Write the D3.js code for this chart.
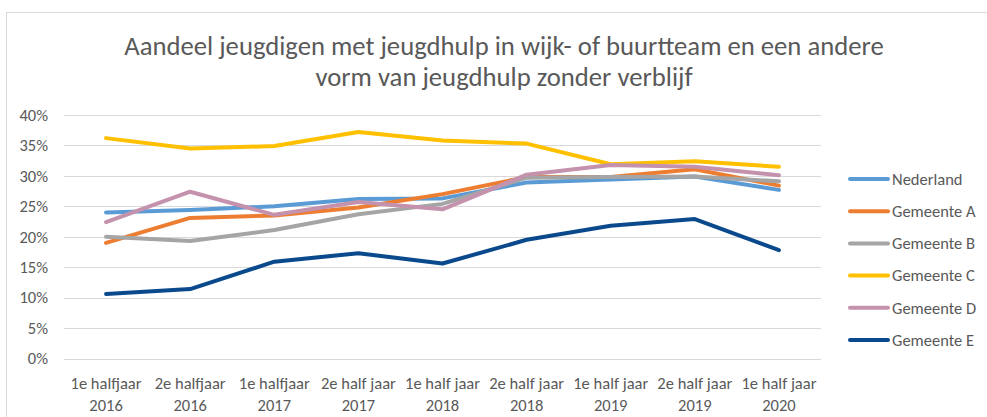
<!DOCTYPE html>
<html>
<head>
<meta charset="utf-8">
<script src="https://cdn.jsdelivr.net/npm/d3@7"></script>
<style>
  body { margin: 0; background: #fff; }
  svg text { font-family: Calibri, Carlito, Lato, sans-serif; fill: #595959; }
</style>
</head>
<body>
<svg id="chart" width="987" height="417"></svg>
<script>
const categories = [
  ['1e halfjaar', '2016'], ['2e halfjaar', '2016'], ['1e halfjaar', '2017'],
  ['2e half jaar', '2017'], ['1e half jaar', '2018'], ['2e half jaar', '2018'],
  ['1e half jaar', '2019'], ['2e half jaar', '2019'], ['1e half jaar', '2020']
];
const seriesNames = ['Nederland', 'Gemeente A', 'Gemeente B', 'Gemeente C', 'Gemeente D', 'Gemeente E'];
const nederland = [24.0, 24.4, 25.0, 26.2, 26.3, 28.9, 29.4, 29.9, 27.7];
const gemeenteA = [19.0, 23.1, 23.5, 24.8, 27.0, 29.8, 29.8, 31.1, 28.4];
const gemeenteB = [20.0, 19.3, 21.1, 23.7, 25.4, 29.7, 29.8, 29.9, 29.1];
const gemeenteC = [36.2, 34.5, 34.9, 37.2, 35.8, 35.3, 31.9, 32.4, 31.5];
const gemeenteD = [22.4, 27.4, 23.6, 25.7, 24.5, 30.2, 31.8, 31.5, 30.1];
const gemeenteE = [10.6, 11.4, 15.9, 17.3, 15.6, 19.5, 21.8, 22.9, 17.8];
const yTicks = [0, 5, 10, 15, 20, 25, 30, 35, 40];
const titleLines = ['Aandeel jeugdigen met jeugdhulp in wijk- of buurtteam en een andere',
  'vorm van jeugdhulp zonder verblijf'];

const colors = ['#5B9BD5', '#ED7D31', '#A5A5A5', '#FFC000', '#C592AE', '#0A4A8C'];
const allSeries = [nederland, gemeenteA, gemeenteB, gemeenteC, gemeenteD, gemeenteE];

const svg = d3.select('#chart');

// chart frame
svg.append('rect')
  .attr('x', 6.5).attr('y', 12.5)
  .attr('width', 1000).attr('height', 420)
  .attr('fill', 'none').attr('stroke', '#d9d9d9');

// title
const title = svg.append('text')
  .attr('x', 504).attr('y', 55)
  .attr('text-anchor', 'middle')
  .style('font-size', '22px')
  .style('font-weight', 300);
titleLines.forEach((t, i) => {
  title.append('tspan').attr('x', 504).attr('dy', i === 0 ? 0 : 31).text(t);
});
// fit width of first line to reference
const w0 = title.select('tspan').node().getComputedTextLength();
title.style('font-size', (22 * 760 / w0) + 'px');

const x = d3.scaleBand()
  .domain(d3.range(categories.length))
  .range([64, 821]);

const y = d3.scaleLinear()
  .domain([0, 40])
  .range([358.5, 115]);

// gridlines
svg.append('g')
  .selectAll('line')
  .data(yTicks)
  .join('line')
  .attr('x1', 64).attr('x2', 821)
  .attr('y1', d => Math.round(y(d)) + 0.5)
  .attr('y2', d => Math.round(y(d)) + 0.5)
  .attr('stroke', '#d9d9d9')
  .attr('stroke-width', 1);

// y labels
svg.append('g')
  .selectAll('text')
  .data(yTicks)
  .join('text')
  .attr('x', 48)
  .attr('y', d => y(d))
  .attr('dy', '0.35em')
  .attr('text-anchor', 'end')
  .style('font-size', '16.5px')
  .text(d => d + '%');

// x labels
const xl = svg.append('g')
  .selectAll('text')
  .data(categories)
  .join('text')
  .attr('text-anchor', 'middle')
  .style('font-size', '16.5px');
xl.append('tspan')
  .attr('x', (d, i) => x(i) + x.bandwidth() / 2)
  .attr('y', 389)
  .text(d => d[0]);
xl.append('tspan')
  .attr('x', (d, i) => x(i) + x.bandwidth() / 2)
  .attr('y', 411)
  .text(d => d[1]);

// lines
const line = d3.line()
  .x((d, i) => x(i) + x.bandwidth() / 2)
  .y(d => y(d));

svg.append('g')
  .selectAll('path')
  .data(allSeries)
  .join('path')
  .attr('d', d => line(d))
  .attr('fill', 'none')
  .attr('stroke', (d, i) => colors[i])
  .attr('stroke-width', 4)
  .attr('stroke-linecap', 'round')
  .attr('stroke-linejoin', 'round');

// legend
const legend = svg.append('g')
  .selectAll('g')
  .data(seriesNames)
  .join('g')
  .attr('transform', (d, i) => `translate(0,${179 + i * 32.2})`);
legend.append('line')
  .attr('x1', 850).attr('x2', 888)
  .attr('stroke', (d, i) => colors[i])
  .attr('stroke-width', 4)
  .attr('stroke-linecap', 'round');
legend.append('text')
  .attr('x', 892)
  .attr('dy', '0.35em')
  .style('font-size', '16.5px')
  .text(d => d);
</script>
</body>
</html>
